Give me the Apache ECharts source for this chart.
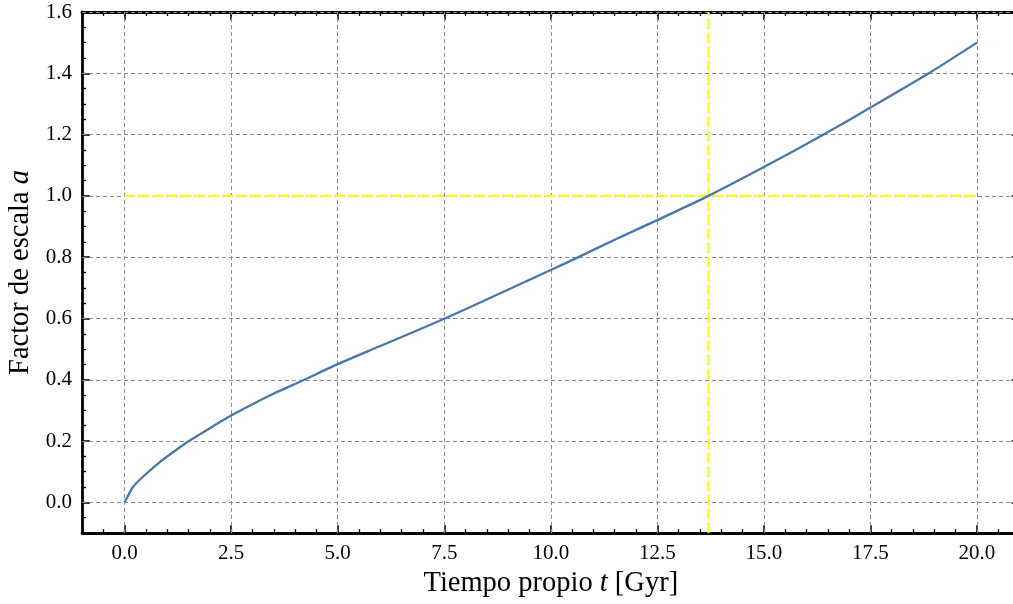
<!DOCTYPE html>
<html><head><meta charset="utf-8">
<script src="https://cdn.jsdelivr.net/npm/echarts@6/dist/echarts.min.js"></script>
<style>html,body{margin:0;padding:0;background:#fff}#c{width:1013px;height:604px}</style>
</head><body><div id="c"></div>
<script>
const tData = [0, 0.2, 0.45, 0.84, 1.2, 1.51, 2.0, 2.5, 3.0, 3.5, 4.2, 5.0, 6.0, 7.5, 8.75, 10.0, 10.6, 11.5, 12.5, 13.7, 15.0, 16.4, 17.5, 18.87, 20.0];
const aData = [0, 0.051, 0.086, 0.133, 0.170, 0.2, 0.242, 0.283, 0.32, 0.355, 0.399, 0.451, 0.510, 0.599, 0.678, 0.758, 0.797, 0.857, 0.921, 1.0, 1.094, 1.2, 1.288, 1.4, 1.5];
const xTicks = [0, 2.5, 5, 7.5, 10, 12.5, 15, 17.5, 20];
const yTicks = [0, 0.2, 0.4, 0.6, 0.8, 1.0, 1.2, 1.4, 1.6];
const tNow = 13.7;
const aNow = 1.0;
const xRange = [-1, 21];
const yRange = [-0.1, 1.6];

const FONT = '"Liberation Serif", "DejaVu Serif", serif';
const black = '#000';
const gridStyle = {color: '#8a8a8a', width: 1, type: [4, 3]};

function minorAxis(pos, isX) {
  return {
    type: 'value', position: pos, min: isX ? xRange[0] : yRange[0], max: isX ? xRange[1] : yRange[1],
    interval: isX ? 0.5 : 0.05,
    axisLine: {show: true, onZero: false, lineStyle: {color: black, width: 2.8}},
    axisTick: {show: true, inside: true, length: 4, lineStyle: {color: black, width: 1.3}},
    axisLabel: {show: false}, splitLine: {show: false}
  };
}
function majorAxis(pos, isX, labels) {
  const ticks = isX ? xTicks : yTicks;
  return {
    type: 'value', position: pos, min: isX ? xRange[0] : yRange[0], max: isX ? xRange[1] : yRange[1],
    axisLine: {show: false, onZero: false},
    axisTick: {show: true, inside: true, length: 8, customValues: ticks, lineStyle: {color: black, width: 1.5}},
    axisLabel: {show: labels, customValues: ticks, margin: 10, color: black, fontFamily: FONT, fontSize: 21,
      formatter: v => v.toFixed(1)},
    splitLine: {show: false}
  };
}

const xA = [minorAxis('bottom', true), majorAxis('bottom', true, true), minorAxis('top', true), majorAxis('top', true, false)];
const yA = [minorAxis('left', false), majorAxis('left', false, true), minorAxis('right', false), majorAxis('right', false, false)];
const rich = {n: {fontFamily: FONT, fontSize: 28.5, color: black}, i: {fontFamily: FONT, fontSize: 28.5, fontStyle: 'italic', color: black}};
xA[1].name = '{n|Tiempo propio }{i|t}{n| [Gyr]}';
xA[1].nameLocation = 'middle';
xA[1].nameGap = 32;
xA[1].nameTextStyle = {rich: rich};
yA[1].name = '{n|Factor de escala }{i|a}';
yA[1].nameLocation = 'middle';
yA[1].nameGap = 41;
yA[1].nameTextStyle = {rich: rich};

const gridLines = [];
xTicks.forEach(v => gridLines.push({xAxis: v}));
yTicks.forEach(v => gridLines.push({yAxis: v}));

const option = {
  animation: false,
  grid: {left: 82, top: 12, right: -6.6, bottom: 71, containLabel: false, outerBoundsMode: 'none'},
  xAxis: xA,
  yAxis: yA,
  series: [
    {type: 'line', data: [], z: 1, markLine: {silent: true, z: 1, symbol: 'none', label: {show: false}, lineStyle: gridStyle, data: gridLines}},
    {type: 'line', data: [[tData[0], aNow], [tData[tData.length - 1], aNow]], showSymbol: false,
      lineStyle: {color: '#ffff00', width: 2.2, type: [10, 4]}, z: 3},
    {type: 'line', data: [[tNow, yRange[0]], [tNow, yRange[1]]], showSymbol: false,
      lineStyle: {color: '#ffff00', width: 2.2, type: [10, 4]}, z: 3},
    {type: 'line', data: tData.map((t, i) => [t, aData[i]]), showSymbol: false, smooth: 0.2,
      lineStyle: {color: '#4a77a8', width: 2.3}, z: 4}
  ]
};
echarts.init(document.getElementById('c'), null, {renderer: 'canvas'}).setOption(option);
</script></body></html>
